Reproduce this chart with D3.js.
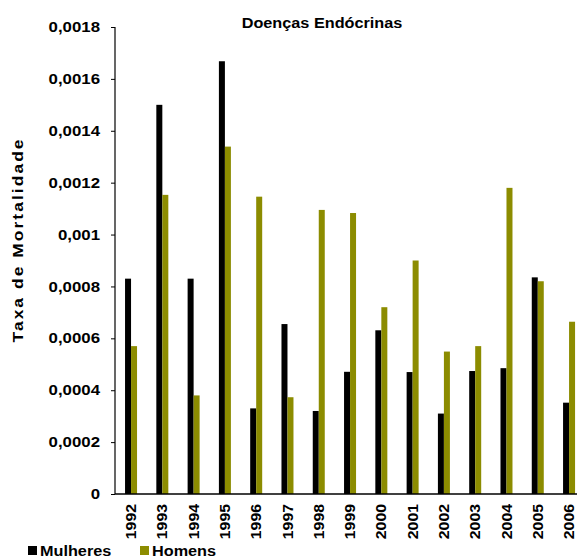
<!DOCTYPE html>
<html>
<head>
<meta charset="utf-8">
<script src="https://cdn.jsdelivr.net/npm/d3@7"></script>
<style>
  html, body { margin: 0; padding: 0; background: #fff; }
  svg { display: block; overflow: hidden; }
  text { font-family: "Liberation Sans", Arial, sans-serif; font-weight: bold; fill: #000; }
</style>
</head>
<body>
<svg id="chart" width="577" height="558"></svg>
<script>
// Mortality rate, endocrine diseases, by year and sex
const years = ["1992","1993","1994","1995","1996","1997","1998","1999","2000","2001","2002","2003","2004","2005","2006"];
const mulheres = [0.00083, 0.0015, 0.00083, 0.001668, 0.00033, 0.000655, 0.00032, 0.000471, 0.000631, 0.00047, 0.00031, 0.000474, 0.000485, 0.000835, 0.000352];
const homens   = [0.00057, 0.001153, 0.00038, 0.001339, 0.001146, 0.000373, 0.001095, 0.001083, 0.00072, 0.0009, 0.000549, 0.00057, 0.00118, 0.00082, 0.000664];
const yTicks = [0, 0.0002, 0.0004, 0.0006, 0.0008, 0.001, 0.0012, 0.0014, 0.0016, 0.0018];
const yTickLabels = ["0", "0,0002", "0,0004", "0,0006", "0,0008", "0,001", "0,0012", "0,0014", "0,0016", "0,0018"];
const seriesNames = ["Mulheres", "Homens"];
const colors = ["#000000", "#8C8C00"];

const svg = d3.select("#chart");

const x = d3.scaleBand().domain(years).range([115.4, 584.7]).padding(0);
const y = d3.scaleLinear().domain([0, 0.0018]).range([494, 27]);
const barW = 6;
const stretch = 1.16; // wide bold lettering

// title
svg.append("text")
  .attr("transform", `translate(322,28) scale(${stretch},1)`)
  .attr("text-anchor", "middle")
  .style("font-size", "14px")
  .text("Doenças Endócrinas");

// bars
const groups = [mulheres, homens];
groups.forEach((vals, si) => {
  svg.append("g").selectAll("rect")
    .data(vals.map((v, i) => ({ year: years[i], v })))
    .join("rect")
    .attr("x", d => x(d.year) + x.bandwidth() / 2 - barW + si * barW)
    .attr("width", barW)
    .attr("y", d => y(d.v))
    .attr("height", d => y(0) - y(d.v))
    .attr("fill", colors[si]);
});

// y axis
const yAxis = d3.axisLeft(y)
  .tickValues(yTicks)
  .tickFormat((d, i) => yTickLabels[i])
  .tickSize(4)
  .tickPadding(11);
const gy = svg.append("g").attr("transform", "translate(115,0)").call(yAxis);
gy.select(".domain").attr("stroke", "#000").attr("stroke-width", 1.2).attr("d", "M0,27V494");
gy.selectAll(".tick line").attr("stroke", "#000");
gy.selectAll(".tick text")
  .attr("font-family", null).attr("font-size", null)
  .style("font-size", "14.5px")
  .attr("x", 0)
  .attr("transform", `translate(-15,0) scale(${stretch},1)`);

// x axis
const xAxis = d3.axisBottom(x).tickSize(0);
const gx = svg.append("g").attr("transform", "translate(0,494)").call(xAxis);
gx.select(".domain").attr("stroke", "#000").attr("stroke-width", 1.5).attr("d", "M115,0H600");
gx.selectAll(".tick text")
  .attr("font-family", null).attr("font-size", null)
  .style("font-size", "14px")
  .attr("transform", "rotate(-90) translate(-10,0) scale(1.13,1)")
  .attr("text-anchor", "end")
  .attr("x", 0)
  .attr("y", 0)
  .attr("dy", "0.36em");

// y axis title
svg.append("text")
  .attr("transform", `translate(23,241) rotate(-90) scale(${stretch},1)`)
  .attr("text-anchor", "middle")
  .attr("textLength", 203 / stretch)
  .attr("lengthAdjust", "spacing")
  .style("font-size", "15px")
  .text("Taxa de Mortalidade");

// legend
const legendX = [28, 140];
seriesNames.forEach((name, i) => {
  svg.append("rect")
    .attr("x", legendX[i]).attr("y", 546)
    .attr("width", 9).attr("height", 9)
    .attr("fill", colors[i]);
  svg.append("text")
    .attr("transform", `translate(${legendX[i] + 12},556) scale(${stretch},1)`)
    .style("font-size", "14px")
    .text(name);
});
</script>
</body>
</html>
